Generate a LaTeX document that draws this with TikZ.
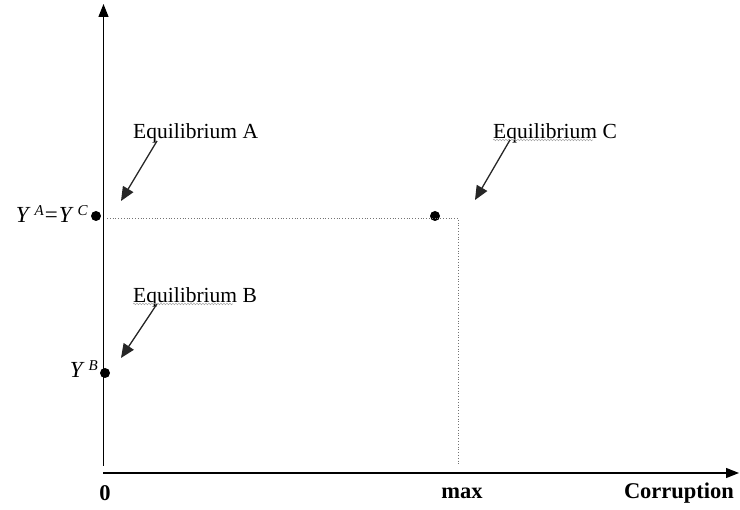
\documentclass[tikz,border=0pt]{standalone}
\usepackage{fontspec}
\setmainfont{Liberation Serif}
\usetikzlibrary{arrows.meta,decorations.pathmorphing}
\begin{document}
\begin{tikzpicture}[x=1pt,y=-1pt,
  axis/.style={line width=1.3pt,-{Triangle[length=13pt,width=10pt]}},
  pointer/.style={line width=1.3pt,draw=black!85,-{Triangle[length=14pt,width=12pt]}},
  guide/.style={line width=0.8pt,draw=black!55,dotted},
  eqdot/.style={circle,fill=black,inner sep=0pt,minimum size=10pt},
  eqlabel/.style={font=\fontsize{21.5}{25}\selectfont,inner sep=0pt,anchor=west},
  axlabel/.style={font=\fontsize{22.5}{26}\selectfont\bfseries,inner sep=0pt},
  ylabel/.style={font=\fontsize{23}{26}\selectfont,inner sep=0pt,anchor=east},
  squiggle/.style={draw=black!35,line width=0.5pt,decorate,decoration={snake,amplitude=0.8pt,segment length=3pt}}
]
\useasboundingbox (0,0) rectangle (740,510);
% axes
\coordinate (ybot) at (103.5,466);
\coordinate (ytop) at (103.5,4);
\coordinate (xleft) at (103,473);
\coordinate (xright) at (739,473);
\draw[axis] (ybot) -- (ytop);
\draw[axis] (xleft) -- (xright);
% axis labels
\node[axlabel] (zero) at (105,493) {0};
\node[axlabel] (max) at (462,493) {max};
\node[axlabel] (corr) at (679,493) {Corruption};
% equilibrium points
\node[eqdot] (dA) at (96,216) {};
\node[eqdot] (dC) at (435,216) {};
\node[eqdot] (dB) at (105,373) {};
% dotted guides
\coordinate (gstart) at (107,218);
\coordinate (gcorner) at (458,218);
\coordinate (gend) at (458,464);
\draw[guide] (gstart) -- (gcorner) -- (gend);
% y labels
\node[ylabel] (yac) at (88,214) {\textit{Y}\kern4pt\raisebox{0.6ex}{\fontsize{15}{16}\selectfont\textit{A}}\kern1pt=\kern1pt\textit{Y}\kern4pt\raisebox{0.6ex}{\fontsize{15}{16}\selectfont\textit{C}}};
\node[ylabel] (yb) at (98,369) {\textit{Y}\kern4pt\raisebox{0.6ex}{\fontsize{15}{16}\selectfont\textit{B}}};
% equilibrium labels
\node[eqlabel] (eA) at (133,133) {Equilibrium A};
\node[eqlabel] (eC) at (493,133) {Equilibrium C};
\node[eqlabel] (eB) at (133,297) {Equilibrium B};
% spell-check squiggles
\draw[squiggle] ([yshift=3pt]eC.south west) -- ([yshift=3pt,xshift=-24pt]eC.south east);
\draw[squiggle] ([yshift=3pt]eB.south west) -- ([yshift=3pt,xshift=-24pt]eB.south east);
% pointers
\coordinate (tA) at (121,201);
\coordinate (tC) at (475,200);
\coordinate (tB) at (121,358);
\draw[pointer] ([xshift=24pt,yshift=2pt]eA.south west) -- (tA);
\draw[pointer] ([xshift=17pt,yshift=3pt]eC.south west) -- (tC);
\draw[pointer] ([xshift=24pt,yshift=3pt]eB.south west) -- (tB);
\end{tikzpicture}
\end{document}
